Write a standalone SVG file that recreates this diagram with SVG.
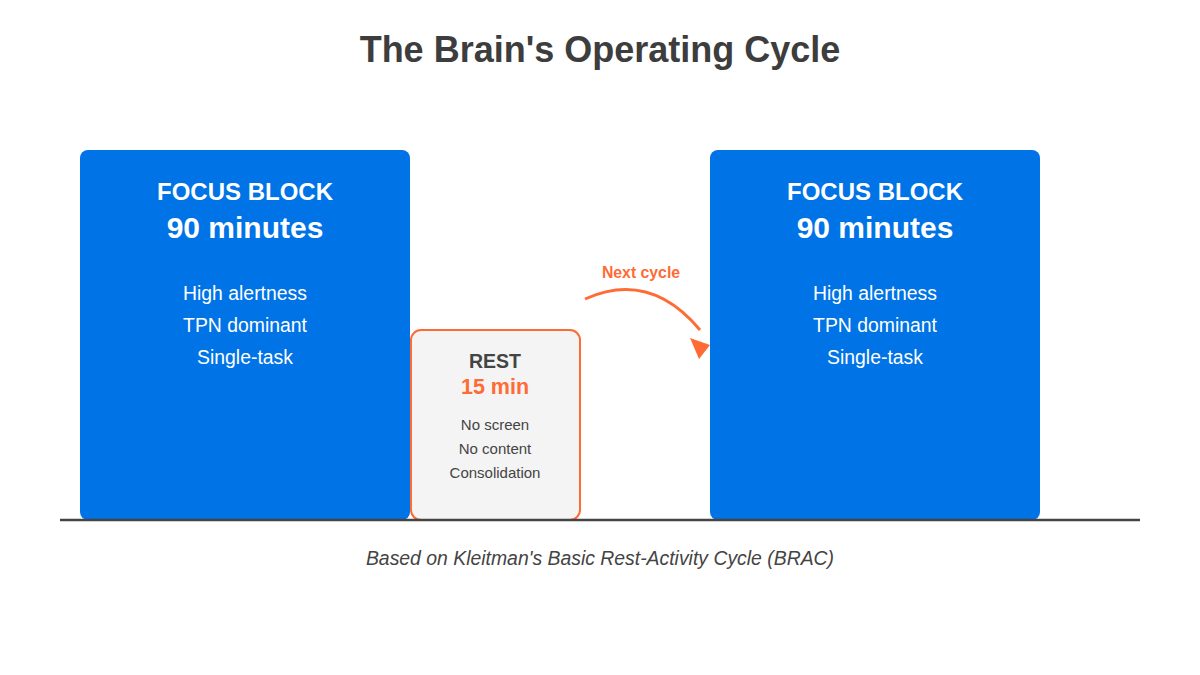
<svg xmlns="http://www.w3.org/2000/svg" width="1200" height="675" viewBox="0 0 1200 675">
<style>
text{font-family:"Liberation Sans",Arial,sans-serif;text-anchor:middle}
.focus{fill:#0073e6}
.w{fill:#fff}
.h1{font-size:24px;font-weight:bold}
.h2{font-size:30px;font-weight:bold}
.ln{font-size:19.4px}
.sm{font-size:15px;fill:#444}
.or{fill:#ff6b35}
</style>
<rect width="1200" height="675" fill="#fff"/>
<text x="600" y="62" font-size="36" font-weight="bold" fill="#3d3d3d">The Brain's Operating Cycle</text>
<g id="focus1">
<rect class="focus" x="80" y="150" width="330" height="370" rx="8"/>
<text class="w h1" x="245" y="200">FOCUS BLOCK</text>
<text class="w h2" x="245" y="238">90 minutes</text>
<text class="w ln" x="245" y="300">High alertness</text>
<text class="w ln" x="245" y="332">TPN dominant</text>
<text class="w ln" x="245" y="364">Single-task</text>
</g>
<g id="rest">
<rect x="411" y="330" width="169" height="190" rx="10" fill="#f4f4f4" stroke="#ff6b35" stroke-width="2"/>
<text x="495" y="368" font-size="19.5" font-weight="bold" fill="#444">REST</text>
<text class="or" x="495" y="394" font-size="21.5" font-weight="bold">15 min</text>
<text class="sm" x="495" y="430">No screen</text>
<text class="sm" x="495" y="454">No content</text>
<text class="sm" x="495" y="478">Consolidation</text>
</g>
<g id="focus2">
<rect class="focus" x="710" y="150" width="330" height="370" rx="8"/>
<text class="w h1" x="875" y="200">FOCUS BLOCK</text>
<text class="w h2" x="875" y="238">90 minutes</text>
<text class="w ln" x="875" y="300">High alertness</text>
<text class="w ln" x="875" y="332">TPN dominant</text>
<text class="w ln" x="875" y="364">Single-task</text>
</g>
<g id="connectors">
<line x1="60" y1="520" x2="1140" y2="520" stroke="#444" stroke-width="2.5"/>
<path d="M585,299 Q650,270 700,330" fill="none" stroke="#ff6b35" stroke-width="3"/>
<polygon points="690,338 710,345 699,359" fill="#ff6b35"/>
<text class="or" x="641" y="278" font-size="15.8" font-weight="bold">Next cycle</text>
</g>
<text x="600" y="565" font-size="19.4" font-style="italic" fill="#444">Based on Kleitman's Basic Rest-Activity Cycle (BRAC)</text>
</svg>
